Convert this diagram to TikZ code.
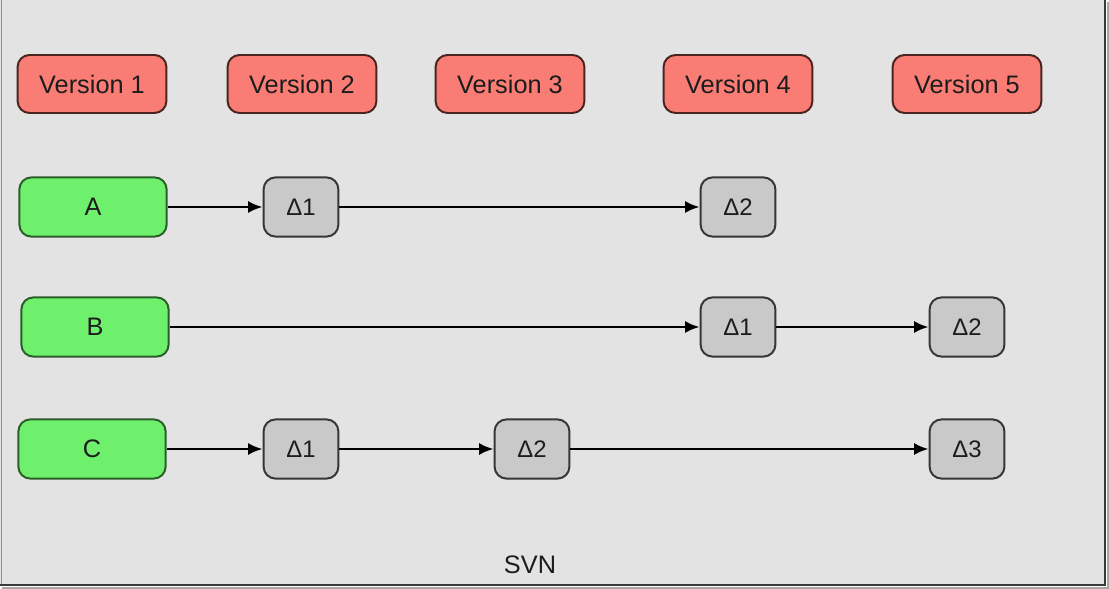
\documentclass[tikz,border=0pt]{standalone}
\usepackage{fontspec}
\setmainfont{Liberation Sans}
\usetikzlibrary{arrows.meta}
\definecolor{canvasfill}{HTML}{E3E3E3}
\definecolor{canvasedge}{HTML}{3A3A3A}
\definecolor{leftedge}{HTML}{7F93A3}
\definecolor{versionfill}{HTML}{FA7D75}
\definecolor{versiondraw}{HTML}{4A2421}
\definecolor{filefill}{HTML}{6EF06C}
\definecolor{filedraw}{HTML}{2A5E28}
\definecolor{deltafill}{HTML}{C9C9C9}
\definecolor{deltadraw}{HTML}{363636}
\definecolor{textcolor}{HTML}{1C1C1C}
\tikzset{
  >=Latex,
  version box/.style={
    rectangle,
    rounded corners=8.5pt,
    draw=versiondraw,
    fill=versionfill,
    line width=1.4pt,
    minimum width=3.72cm,
    minimum height=1.45cm,
    inner sep=0pt,
    text=textcolor,
    font=\fontsize{18}{21}\selectfont
  },
  file box/.style={
    rectangle,
    rounded corners=8.5pt,
    draw=filedraw,
    fill=filefill,
    line width=1.4pt,
    minimum width=3.68cm,
    minimum height=1.48cm,
    inner sep=0pt,
    text=textcolor,
    font=\fontsize{18}{21}\selectfont
  },
  delta box/.style={
    rectangle,
    rounded corners=8.5pt,
    draw=deltadraw,
    fill=deltafill,
    line width=1.4pt,
    minimum width=1.87cm,
    minimum height=1.48cm,
    inner sep=0pt,
    text=textcolor,
    font=\fontsize{17}{20}\selectfont
  },
  change/.style={
    draw=black,
    line width=1.8pt,
    -{Latex[length=3.6mm,width=3mm]}
  },
  caption/.style={
    text=textcolor,
    font=\fontsize{18}{21}\selectfont
  }
}

\begin{document}
\begin{tikzpicture}[x=0.025cm,y=-0.025cm]
  \useasboundingbox (0,0) rectangle (1109,589);
  % canvas
  \fill[canvasfill] (0,0) rectangle (1105,585);
  \draw[leftedge,line width=1pt] (1.5,0) -- (1.5,585);
  \draw[canvasedge,line width=1.6pt] (1105,0) -- (1105,585) -- (0,585);
  \draw[black!35,line width=1.2pt] (1108,2) -- (1108,588) -- (2,588);

  \node[version box] (V-1) at (92,84) {Version 1};
  \node[version box] (V-2) at (302,84) {Version 2};
  \node[version box] (V-3) at (510,84) {Version 3};
  \node[version box] (V-4) at (738,84) {Version 4};
  \node[version box] (V-5) at (967,84) {Version 5};

  \node[file box] (A) at (93,207) {A};
  \node[file box] (B) at (95,327) {B};
  \node[file box] (C) at (92,449) {C};

  \node[delta box] (A-1) at (301,207) {Δ1};
  \node[delta box] (A-2) at (738,207) {Δ2};

  \node[delta box] (B-1) at (738,327) {Δ1};
  \node[delta box] (B-2) at (967,327) {Δ2};

  \node[delta box] (C-1) at (301,449) {Δ1};
  \node[delta box] (C-2) at (532,449) {Δ2};
  \node[delta box] (C-3) at (967,449) {Δ3};

  \draw[change] (A) -- (A-1);
  \draw[change] (A-1) -- (A-2);
  \draw[change] (B) -- (B-1);
  \draw[change] (B-1) -- (B-2);
  \draw[change] (C) -- (C-1);
  \draw[change] (C-1) -- (C-2);
  \draw[change] (C-2) -- (C-3);

  \node[caption] (svn) at (530,565) {SVN};
\end{tikzpicture}
\end{document}
